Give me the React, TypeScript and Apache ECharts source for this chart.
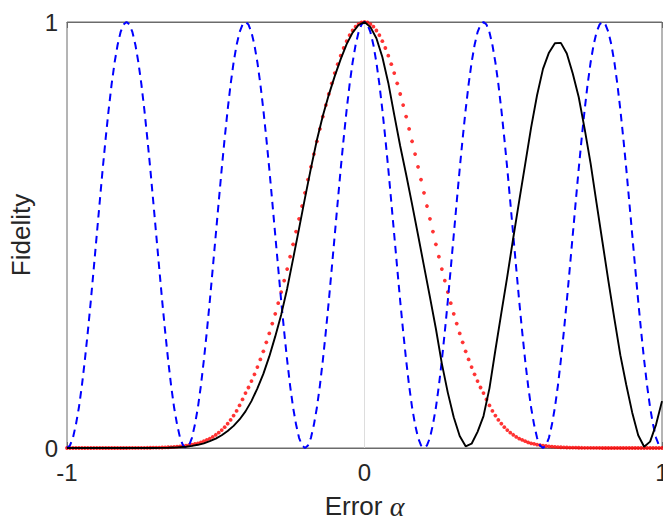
import { useEffect, useRef } from "react";
import * as echarts from "echarts";

// ---- Data ----
const X_MIN = -1;
const X_MAX = 1;
const xTicks = [-1, 0, 1];
const yTicks = [0, 1];
const xAxisTitle = "Error";
const xAxisSymbol = "α";
const yAxisTitle = "Fidelity";

// Blue dashed curve, sampled every 0.01 from -1 to 1
const blueStep = 0.01;
const blueValues = [
  0, 0.006, 0.024, 0.055, 0.095, 0.146, 0.206, 0.273, 0.345, 0.422, 0.5, 0.578, 0.655, 0.727, 0.794, 0.854, 0.905, 0.946, 0.976, 0.994, 1,
  0.994, 0.976, 0.946, 0.905, 0.854, 0.794, 0.727, 0.655, 0.578, 0.5, 0.422, 0.345, 0.273, 0.206, 0.146, 0.095, 0.055, 0.024, 0.006, 0,
  0.006, 0.024, 0.055, 0.095, 0.146, 0.206, 0.273, 0.345, 0.422, 0.5, 0.578, 0.655, 0.727, 0.794, 0.854, 0.905, 0.946, 0.976, 0.994, 1,
  0.994, 0.976, 0.946, 0.905, 0.854, 0.794, 0.727, 0.655, 0.578, 0.5, 0.422, 0.345, 0.273, 0.206, 0.146, 0.095, 0.055, 0.024, 0.006, 0,
  0.006, 0.024, 0.055, 0.095, 0.146, 0.206, 0.273, 0.345, 0.422, 0.5, 0.578, 0.655, 0.727, 0.794, 0.854, 0.905, 0.946, 0.976, 0.994, 1,
  0.994, 0.976, 0.946, 0.905, 0.854, 0.794, 0.727, 0.655, 0.578, 0.5, 0.422, 0.345, 0.273, 0.206, 0.146, 0.095, 0.055, 0.024, 0.006, 0,
  0.006, 0.024, 0.055, 0.095, 0.146, 0.206, 0.273, 0.345, 0.422, 0.5, 0.578, 0.655, 0.727, 0.794, 0.854, 0.905, 0.946, 0.976, 0.994, 1,
  0.994, 0.976, 0.946, 0.905, 0.854, 0.794, 0.727, 0.655, 0.578, 0.5, 0.422, 0.345, 0.273, 0.206, 0.146, 0.095, 0.055, 0.024, 0.006, 0,
  0.006, 0.024, 0.055, 0.095, 0.146, 0.206, 0.273, 0.345, 0.422, 0.5, 0.578, 0.655, 0.727, 0.794, 0.854, 0.905, 0.946, 0.976, 0.994, 1,
  0.994, 0.976, 0.946, 0.905, 0.854, 0.794, 0.727, 0.655, 0.578, 0.5, 0.422, 0.345, 0.273, 0.206, 0.146, 0.095, 0.055, 0.024, 0.006, 0,
];

// Red dotted curve, sampled every 0.01 from -1 to 1
const redStep = 0.01;
const redValues = [
  0, 0, 0, 0, 0, 0, 0, 0, 0, 0, 0, 0, 0, 0, 0, 0, 0, 0, 0, 0, 0,
  0.0001, 0.0002, 0.0002, 0.0003, 0.0003, 0.0004, 0.0005, 0.0006, 0.0007, 0.0008,
  0.001, 0.0012, 0.0015, 0.0018, 0.0022, 0.0027, 0.0032, 0.0039, 0.0047, 0.0056,
  0.0067, 0.008, 0.0095, 0.011, 0.013, 0.016, 0.019, 0.022, 0.026, 0.031,
  0.036, 0.042, 0.049, 0.057, 0.066, 0.076, 0.087, 0.1, 0.114, 0.129,
  0.142, 0.157, 0.173, 0.19, 0.208, 0.227, 0.248, 0.269, 0.292, 0.315,
  0.34, 0.366, 0.393, 0.42, 0.449, 0.478, 0.508, 0.538, 0.568, 0.599,
  0.63, 0.66, 0.69, 0.72, 0.749, 0.778, 0.805, 0.831, 0.856, 0.88,
  0.901, 0.921, 0.939, 0.955, 0.969, 0.98, 0.989, 0.995, 0.999,
  1,
  0.999, 0.995, 0.989, 0.98, 0.969, 0.955, 0.939, 0.921, 0.901,
  0.88, 0.856, 0.831, 0.805, 0.778, 0.749, 0.72, 0.69, 0.66, 0.63,
  0.599, 0.568, 0.538, 0.508, 0.478, 0.449, 0.42, 0.393, 0.366, 0.34,
  0.315, 0.292, 0.269, 0.248, 0.227, 0.208, 0.19, 0.173, 0.157, 0.142,
  0.129, 0.114, 0.1, 0.087, 0.076, 0.066, 0.057, 0.049, 0.042, 0.036,
  0.031, 0.026, 0.022, 0.019, 0.016, 0.013, 0.011, 0.0095, 0.008, 0.0067,
  0.0056, 0.0047, 0.0039, 0.0032, 0.0027, 0.0022, 0.0018, 0.0015, 0.0012, 0.001,
  0.0008, 0.0007, 0.0006, 0.0005, 0.0004, 0.0003, 0.0003, 0.0002, 0.0002, 0.0001,
  0, 0, 0, 0, 0, 0, 0, 0, 0, 0, 0, 0, 0, 0, 0, 0, 0, 0, 0, 0, 0,
];

// Black solid curve, sampled every 0.02 from -1 to 1
const blackStep = 0.02;
const blackValues = [
  0, 0, 0, 0, 0, 0, 0, 0, 0, 0, 0, 0, 0, 0, 0, 0,
  0.0003, 0.0006, 0.001, 0.002, 0.003, 0.005, 0.0075, 0.011, 0.016, 0.022,
  0.03, 0.04, 0.052, 0.067, 0.086, 0.11, 0.14, 0.174, 0.215, 0.262,
  0.313, 0.374, 0.444, 0.515, 0.587, 0.657, 0.723, 0.78, 0.829, 0.873,
  0.913, 0.948, 0.975, 0.993,
  1,
  0.988, 0.962, 0.918, 0.857, 0.782, 0.709, 0.642, 0.572, 0.5, 0.427,
  0.354, 0.28, 0.198, 0.13, 0.072, 0.028, 0.004, 0.01, 0.038, 0.075,
  0.14, 0.23, 0.317, 0.403, 0.493, 0.58, 0.666, 0.752, 0.828, 0.89,
  0.928, 0.95, 0.951, 0.926, 0.879, 0.824, 0.749, 0.668, 0.575, 0.483,
  0.391, 0.303, 0.218, 0.148, 0.083, 0.03, 0.003, 0.015, 0.055, 0.11,
];

const zeroLine = [
  [0, 0],
  [0, 1],
];

function toPairs(values: number[], step: number): number[][] {
  return values.map((v, i) => [Number((X_MIN + i * step).toFixed(4)), v]);
}

const FONT = "'Liberation Sans', Arial, Helvetica, sans-serif";
const AXIS_COLOR = "#6b6b6b";
const TEXT_COLOR = "#262626";

export default function App() {
  const ref = useRef<HTMLDivElement>(null);

  useEffect(() => {
    if (!ref.current) return;
    const chart = echarts.init(ref.current, undefined, { renderer: "svg" });

    const tickAxisCommon = {
      axisLine: { show: true, lineStyle: { color: AXIS_COLOR, width: 1 } },
      axisTick: { show: true, inside: true, length: 6, lineStyle: { color: AXIS_COLOR, width: 1 } },
      splitLine: { show: false },
    };

    const option: any = {
      animation: false,
      backgroundColor: "#ffffff",
      grid: {
        left: 67,
        top: 22,
        width: 595,
        height: 426,
        show: true,
        borderColor: AXIS_COLOR,
        borderWidth: 1,
        backgroundColor: "transparent",
        containLabel: false,
        outerBoundsMode: "none",
      },
      xAxis: [
        {
          type: "value",
          min: X_MIN,
          max: X_MAX,
          interval: 1,
          position: "bottom",
          ...tickAxisCommon,
          axisLabel: {
            show: true,
            fontSize: 24,
            color: TEXT_COLOR,
            fontFamily: FONT,
            margin: 12,
            showMinLabel: true,
            showMaxLabel: true,
            formatter: (v: number) => (xTicks.includes(v) ? String(v) : ""),
          },
          name: `${xAxisTitle} {a|${xAxisSymbol}}`,
          nameLocation: "middle",
          nameGap: 44,
          nameTextStyle: {
            fontSize: 26,
            color: TEXT_COLOR,
            fontFamily: FONT,
            rich: {
              a: {
                fontSize: 28,
                fontStyle: "italic",
                fontFamily: "'Liberation Serif', 'DejaVu Serif', serif",
                color: TEXT_COLOR,
              },
            },
          },
        },
        {
          type: "value",
          min: X_MIN,
          max: X_MAX,
          interval: 1,
          position: "top",
          ...tickAxisCommon,
          axisLabel: { show: false },
        },
      ],
      yAxis: {
        type: "value",
        min: 0,
        max: 1,
        interval: 1,
        ...tickAxisCommon,
        axisLabel: {
          show: true,
          fontSize: 24,
          color: TEXT_COLOR,
          fontFamily: FONT,
          margin: 9,
          showMinLabel: true,
          showMaxLabel: true,
          formatter: (v: number) => (yTicks.includes(v) ? String(v) : ""),
        },
        name: yAxisTitle,
        nameLocation: "middle",
        nameGap: 30,
        nameTextStyle: { fontSize: 26, color: TEXT_COLOR, fontFamily: FONT },
      },
      series: [
        {
          type: "line",
          data: zeroLine,
          symbol: "none",
          silent: true,
          lineStyle: { color: "#dddddd", width: 1 },
        },
        {
          type: "line",
          data: toPairs(blueValues, blueStep),
          symbol: "none",
          smooth: false,
          lineStyle: { color: "#0000ff", width: 2, type: [7.5, 5.5] },
        },
        {
          type: "line",
          data: toPairs(blackValues, blackStep),
          symbol: "none",
          smooth: false,
          lineStyle: { color: "#000000", width: 1.9 },
        },
        {
          type: "scatter",
          data: toPairs(redValues, redStep),
          symbol: "circle",
          symbolSize: 3.8,
          itemStyle: { color: "#ff0000" },
          clip: false,
        },
      ],
    };

    chart.setOption(option);
    return () => chart.dispose();
  }, []);

  return (
    <div
      ref={ref}
      style={{ position: "fixed", left: 0, top: 0, width: 663, height: 518, background: "#fff" }}
    />
  );
}
